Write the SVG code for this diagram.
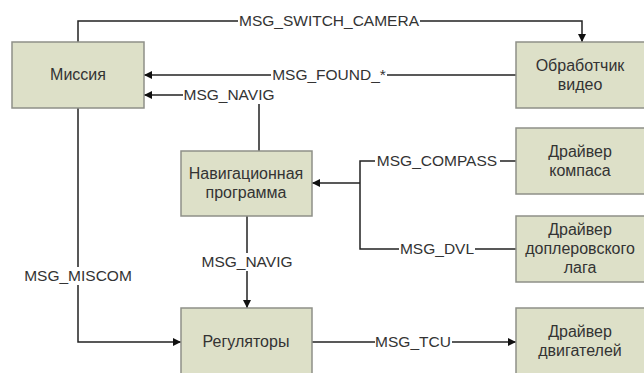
<svg xmlns="http://www.w3.org/2000/svg" width="644" height="373" viewBox="0 0 644 373">
<defs>
<style>
.box{fill:#dde0c8;stroke:#8e9088;stroke-width:1.5}
.t{font-family:"Liberation Sans",Arial,sans-serif;font-size:16px;fill:#333;text-anchor:middle}
.l{font-family:"Liberation Sans",Arial,sans-serif;font-size:15.5px;fill:#333;text-anchor:middle}
.c{fill:none;stroke:#222;stroke-width:1.5}
.bg{fill:#fff}
</style>
<marker id="arr" viewBox="0 0 10 10" refX="10" refY="5" markerWidth="8" markerHeight="8" markerUnits="userSpaceOnUse" orient="auto">
<path d="M0,0 L10,5 L0,10 Z" fill="#111"/>
</marker>
</defs>
<rect width="644" height="373" fill="#fff"/>
<g id="connectors">
<path class="c" d="M78,42 V21 H582 V42" marker-end="url(#arr)"/>
<path class="c" d="M516,75 H144" marker-end="url(#arr)"/>
<path class="c" d="M259,151 V95 H144" marker-end="url(#arr)"/>
<path class="c" d="M516,161 H360 V249 H516"/>
<path class="c" d="M360,183 H312" marker-end="url(#arr)"/>
<path class="c" d="M247,216 V308" marker-end="url(#arr)"/>
<path class="c" d="M78,108 V342 H181" marker-end="url(#arr)"/>
<path class="c" d="M312,342 H516" marker-end="url(#arr)"/>
<g id="labels">
<rect class="bg" x="238" y="12" width="182" height="18"/>
<text class="l" x="329" y="26">MSG_SWITCH_CAMERA</text>
<rect class="bg" x="271" y="66" width="116" height="18"/>
<text class="l" x="329" y="80">MSG_FOUND_*</text>
<rect class="bg" x="183" y="86" width="93" height="18"/>
<text class="l" x="229" y="100">MSG_NAVIG</text>
<rect class="bg" x="375" y="152" width="125" height="18"/>
<text class="l" x="437" y="166">MSG_COMPASS</text>
<rect class="bg" x="399" y="240" width="76" height="18"/>
<text class="l" x="437" y="254">MSG_DVL</text>
<rect class="bg" x="200" y="253" width="93" height="18"/>
<text class="l" x="247" y="267">MSG_NAVIG</text>
<rect class="bg" x="23" y="267" width="109" height="18"/>
<text class="l" x="78" y="281">MSG_MISCOM</text>
<rect class="bg" x="375" y="333" width="77" height="18"/>
<text class="l" x="413" y="347">MSG_TCU</text>
</g>
</g>
<g id="missiya">
<rect class="box" x="12" y="42" width="132" height="66"/>
<text class="t" x="78" y="80">Миссия</text>
</g>
<g id="video">
<rect class="box" x="516" y="42" width="140" height="66"/>
<text class="t" x="580" y="71">Обработчик</text>
<text class="t" x="580" y="90">видео</text>
</g>
<g id="nav">
<rect class="box" x="181" y="151" width="131" height="65"/>
<text class="t" x="246" y="179">Навигационная</text>
<text class="t" x="246" y="198">программа</text>
</g>
<g id="compass">
<rect class="box" x="516" y="128" width="140" height="66"/>
<text class="t" x="580" y="157">Драйвер</text>
<text class="t" x="580" y="176">компаса</text>
</g>
<g id="dvl">
<rect class="box" x="516" y="216" width="140" height="66"/>
<text class="t" x="580" y="235">Драйвер</text>
<text class="t" x="580" y="254">доплеровского</text>
<text class="t" x="580" y="273">лага</text>
</g>
<g id="reg">
<rect class="box" x="181" y="308" width="131" height="75"/>
<text class="t" x="246" y="347">Регуляторы</text>
</g>
<g id="motors">
<rect class="box" x="516" y="308" width="140" height="75"/>
<text class="t" x="580" y="337">Драйвер</text>
<text class="t" x="580" y="356">двигателей</text>
</g>
</svg>
